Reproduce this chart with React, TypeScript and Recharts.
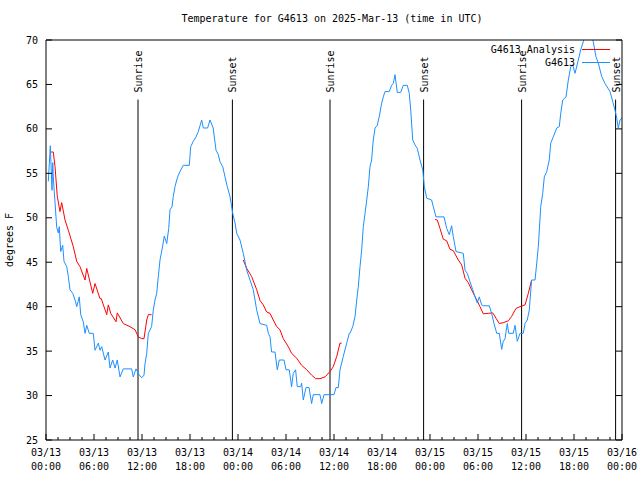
import React from "react";
import { LineChart, Line, XAxis, YAxis, ReferenceLine } from "recharts";

// hours since 03/13 00:00 UTC
const obsHour = [
  0.29, 0.54, 0.75, 0.84, 0.91, 1.09, 1.25, 1.34, 1.54, 1.66, 1.84, 2.09, 2.25, 2.59, 2.79, 3.0, 3.34, 3.63, 3.84,
  4.16, 4.34, 4.66, 4.88, 5.09, 5.41, 5.91, 6.13, 6.54, 6.75, 6.96, 7.38, 7.79, 8.0, 8.34, 8.63, 8.91, 9.25, 9.66,
  10.71, 10.91, 11.25, 11.59, 11.96, 12.25, 12.38, 12.59, 12.79, 13.2, 13.41, 13.63, 13.84, 14.04, 14.25, 14.54,
  14.79, 15.09, 15.34, 15.5, 15.75, 15.91, 16.13, 16.34, 16.54, 16.75, 17.16, 17.91, 18.09, 18.41, 18.75, 19.04,
  19.46, 19.66, 20.2, 20.5, 20.9, 21.25, 21.54, 21.75, 22.09, 22.38, 22.66, 23.0, 23.34, 23.63, 23.84, 24.25, 24.66,
  25.09, 25.5, 25.91, 26.34, 26.75, 27.59, 27.79, 28.0, 28.2, 28.63, 28.91, 29.16, 29.75, 30.0, 30.41, 30.7, 30.91,
  31.2, 31.41, 31.84, 31.96, 32.16, 32.5, 32.88, 33.2, 33.41, 34.25, 34.46, 34.75, 36.0, 36.25, 36.54, 36.75, 37.16,
  37.59, 37.91, 38.0, 38.34, 38.63, 38.84, 39.04, 39.25, 39.46, 39.66, 39.88, 40.09, 40.29, 40.5, 40.7, 40.91,
  41.13, 41.41, 41.66, 41.96, 42.16, 42.38, 42.91, 43.2, 43.41, 43.63, 43.91, 44.34, 44.66, 45.16, 45.41, 45.59,
  45.84, 46.13, 46.41, 46.75, 47.09, 47.29, 47.59, 48.2, 48.41, 48.75, 49.75, 50.09, 50.41, 50.7, 50.91, 51.25,
  52.16, 52.38, 52.66, 53.0, 53.34, 53.63, 53.91, 54.16, 54.46, 54.66, 55.41, 55.7, 56.0, 56.34, 56.66, 56.96,
  57.16, 57.38, 57.66, 57.84, 58.41, 58.63, 58.91, 59.25, 59.66, 59.88, 60.16, 60.41, 60.7, 61.13, 61.34, 61.54,
  61.84, 62.09, 62.29, 62.59, 62.91, 63.09, 63.41, 63.84, 64.16, 64.34, 64.59, 65.0, 65.29, 65.59, 65.84, 66.13,
  66.54, 66.84, 67.16, 67.5, 68.1, 68.41, 68.75, 69.04, 69.46, 69.88, 70.5, 70.84, 71.13, 71.34, 71.54, 71.75, 71.96,
];
const obsTemp = [
  54.1, 58.1, 53.1, 56.2, 54.6, 52.2, 50.1, 48.9, 48.3, 49.0, 46.2, 46.9, 45.1, 44.5, 43.4, 41.9, 41.5, 40.75, 40.0,
  41.1, 39.1, 38.3, 37.0, 37.9, 37.0, 37.0, 35.1, 35.9, 35.1, 35.5, 34.0, 34.9, 33.1, 34.0, 33.1, 34.0, 32.1, 33.0,
  33.0, 32.1, 33.0, 32.4, 32.0, 32.3, 33.6, 34.75, 37.0, 37.75, 39.6, 40.75, 41.5, 43.4, 45.25, 46.6,
  47.95, 47.1, 48.8, 50.9, 51.25, 52.4, 53.5, 54.25, 54.8, 55.2, 55.9, 55.9, 58.0, 58.6, 59.1, 59.7,
  61.0, 60.1, 60.1, 61.0, 60.1, 57.6, 57.1, 56.3, 55.75, 54.6, 53.5, 52.4, 50.5, 49.4, 48.25, 47.5, 46.0,
  44.1, 43.0, 41.9, 39.6, 38.1, 37.9, 37.0, 36.6, 34.9, 34.9, 32.9, 34.0, 34.0, 32.9, 32.9, 31.0, 32.5,
  32.9, 31.0, 31.0, 31.4, 29.5, 30.9, 30.9, 29.1, 30.1, 30.1, 29.1, 30.1, 30.1, 30.9, 30.9, 32.9, 34.4,
  35.9, 37.0, 37.0, 37.75, 38.9, 40.75, 42.25, 44.5, 46.4, 49.0, 50.5, 52.0, 53.5, 55.75, 56.5, 58.75,
  60.1, 60.4, 61.4, 62.9, 63.6, 64.2, 64.2, 64.9, 65.1, 66.1, 64.1, 64.1, 64.9, 64.9, 64.0, 62.1,
  58.75, 58.2, 57.8, 56.5, 55.4, 53.5, 52.2, 52.0, 51.25, 50.1, 50.1, 48.8, 48.1, 49.1, 47.9, 46.2,
  46.0, 44.1, 43.75, 42.8, 41.9, 41.1, 40.4, 41.1, 40.2, 40.1, 40.1, 39.25, 38.1, 37.0, 37.0, 35.2,
  36.1, 36.4, 38.1, 37.0, 37.0, 37.9, 36.1, 37.0, 37.0, 38.1, 38.5, 39.6, 43.0, 43.0, 44.9, 46.75,
  51.25, 52.75, 54.6, 55.2, 56.5, 58.4, 59.1, 60.1, 60.25, 61.75, 63.25, 63.6, 65.5, 67.0, 67.2, 66.25,
  67.75, 68.9, 69.8, 70.8, 70.8, 69.8, 68.1, 67.4, 65.9, 65.1, 64.2, 63.1, 62.1, 61.2, 60.1, 61.0, 61.2,
];

const anaHour = [
  0.63, 0.91, 1.13, 1.41, 1.75, 1.96, 2.38, 2.79, 3.41, 3.84, 4.25, 4.88, 5.09, 5.84, 6.13, 6.75, 6.91, 7.59, 7.79,
  8.09, 8.75, 8.91, 9.66, 10.5, 11.13, 11.54, 11.96, 12.25, 12.59, 12.79, 13.2,
  18,
  24.66, 25.09, 25.7, 26.34, 26.75, 27.16, 27.59, 28.0, 28.41, 28.84, 29.25, 29.66, 30.29, 30.7, 31.34, 31.96,
  32.59, 33.2, 33.7, 34.25, 34.88, 35.5, 35.91, 36.34, 36.75, 36.96,
  42,
  48.63, 48.91, 49.25, 49.66, 50.09, 50.5, 50.91, 51.54, 51.96, 52.38, 52.79, 53.2, 53.84, 54.25, 54.66, 55.29,
  55.84, 56.25, 56.66, 57.16, 57.79, 58.2, 58.75, 59.25, 59.88, 60.29, 60.7,
];
const anaTemp = [
  57.4, 57.4, 55.75, 52.4, 50.7, 51.7, 49.75, 48.6, 46.75, 45.1, 44.5, 43.0, 44.3, 41.5, 42.6, 40.9, 40.9, 39.1, 40.2,
  39.25, 38.3, 39.3, 38.1, 37.75, 37.4, 36.6, 36.4, 36.4, 38.5, 39.1, 39.1,
  null,
  45.25, 44.3, 43.4, 41.9, 40.7, 40.2, 39.4, 39.25, 38.5, 37.75, 37.4, 36.4, 35.5, 34.75, 34.2, 33.4,
  32.9, 32.3, 31.9, 31.9, 32.1, 32.7, 33.25, 34.4, 35.9, 35.9,
  null,
  49.8, 49.75, 48.8, 47.6, 47.4, 46.45, 46.3, 45.25, 44.7, 43.2, 42.7, 41.9, 40.75, 40.0, 39.2, 39.25,
  39.3, 38.7, 38.1, 38.2, 38.4, 38.9, 39.8, 40.0, 40.2, 41.5, 43.0,
];

const majorTicks = [0, 6, 12, 18, 24, 30, 36, 42, 48, 54, 60, 66, 72];
const tickDates = ["03/13", "03/13", "03/13", "03/13", "03/14", "03/14", "03/14", "03/14", "03/15", "03/15", "03/15", "03/15", "03/16"];
const tickTimes = ["00:00", "06:00", "12:00", "18:00", "00:00", "06:00", "12:00", "18:00", "00:00", "06:00", "12:00", "18:00", "00:00"];
const yTicks = [25, 30, 35, 40, 45, 50, 55, 60, 65, 70];

const sunHour = [11.5, 23.3, 35.5, 47.2, 59.45, 71.2];
const sunLabel = ["Sunrise", "Sunset", "Sunrise", "Sunset", "Sunrise", "Sunset"];

const FONT = "'DejaVu Sans Mono', 'Liberation Mono', monospace";
const BLUE = "#1e8fff";
const RED = "#ff0000";

const obsData = obsHour.map((h, i) => ({ h, obs: obsTemp[i] }));
const anaData = anaHour.map((h, i) => ({ h, ana: anaTemp[i] }));
const allXTicks = Array.from({ length: 49 }, (_, i) => i * 1.5);

function BottomTick(props: any) {
  const { x, y, payload } = props;
  const idx = majorTicks.indexOf(payload.value);
  const major = idx >= 0;
  return (
    <g>
      <line x1={x} x2={x} y1={y} y2={y - (major ? 6 : 3)} stroke="#000" />
      {major && (
        <text x={x} y={y} textAnchor="middle" fontFamily={FONT} fontSize={10} fill="#000">
          <tspan x={x} dy={16}>{tickDates[idx]}</tspan>
          <tspan x={x} dy={14}>{tickTimes[idx]}</tspan>
        </text>
      )}
    </g>
  );
}

function TopTick(props: any) {
  const { x, y, payload } = props;
  const major = majorTicks.indexOf(payload.value) >= 0;
  return <line x1={x} x2={x} y1={y} y2={y + (major ? 6 : 3)} stroke="#000" />;
}

function LeftTick(props: any) {
  const { x, y, payload } = props;
  return (
    <g>
      <line x1={x} x2={x + 6} y1={y} y2={y} stroke="#000" />
      <text x={x - 8} y={y} dy="0.35em" textAnchor="end" fontFamily={FONT} fontSize={10} fill="#000">
        {payload.value}
      </text>
    </g>
  );
}

function RightTick(props: any) {
  const { x, y } = props;
  return <line x1={x} x2={x - 6} y1={y} y2={y} stroke="#000" />;
}

function SunLabel(props: any) {
  const { viewBox, value } = props;
  const tx = viewBox.x + 4;
  const ty = viewBox.y - 7;
  return (
    <text x={tx} y={ty} transform={`rotate(-90 ${tx} ${ty})`} fontFamily={FONT} fontSize={10} fill="#000">
      {value}
    </text>
  );
}

function LegendBox() {
  const rows = [
    { name: "G4613 Analysis", color: RED },
    { name: "G4613", color: BLUE },
  ];
  return (
    <div
      style={{
        position: "absolute",
        top: 43,
        left: 430,
        width: 180,
        fontFamily: FONT,
        fontSize: 10,
        color: "#000",
      }}
    >
      {rows.map((r) => (
        <div key={r.name} style={{ display: "flex", justifyContent: "flex-end", alignItems: "center", height: 13 }}>
          <span>{r.name}</span>
          <span style={{ display: "inline-block", width: 28, borderTop: `1px solid ${r.color}`, marginLeft: 7 }} />
        </div>
      ))}
    </div>
  );
}

export default function App() {
  return (
    <div style={{ position: "fixed", left: 0, top: 0, width: 640, height: 480, background: "#fff" }}>
      <div
        style={{
          position: "absolute",
          top: 13,
          width: 640,
          left: 12,
          textAlign: "center",
          fontFamily: FONT,
          fontSize: 10,
          color: "#000",
        }}
      >
        Temperature for G4613 on 2025-Mar-13 (time in UTC)
      </div>
      <LineChart width={640} height={480} margin={{ top: 39, right: 17, bottom: 0, left: 6 }}>
        <XAxis
          xAxisId="b"
          dataKey="h"
          type="number"
          domain={[0, 72]}
          ticks={allXTicks}
          interval={0}
          height={40}
          tickSize={0}
          tickLine={false}
          tickMargin={0}
          stroke="#000"
          tick={<BottomTick />}
        />
        <XAxis
          xAxisId="t"
          orientation="top"
          dataKey="h"
          type="number"
          domain={[0, 72]}
          ticks={allXTicks}
          interval={0}
          height={1}
          tickSize={0}
          tickLine={false}
          tickMargin={0}
          stroke="#000"
          tick={<TopTick />}
        />
        <YAxis
          yAxisId="l"
          type="number"
          domain={[25, 70]}
          allowDataOverflow
          ticks={yTicks}
          interval={0}
          width={40}
          tickSize={0}
          tickLine={false}
          tickMargin={0}
          stroke="#000"
          tick={<LeftTick />}
          label={{
            content: () => (
              <text x={13} y={240} transform="rotate(-90 13 240)" textAnchor="middle" fontFamily={FONT} fontSize={10} fill="#000">
                degrees F
              </text>
            ),
          }}
        />
        <YAxis
          yAxisId="r"
          orientation="right"
          type="number"
          domain={[25, 70]}
          allowDataOverflow
          ticks={yTicks}
          interval={0}
          width={1}
          tickSize={0}
          tickLine={false}
          tickMargin={0}
          stroke="#000"
          tick={<RightTick />}
        />
        {sunHour.map((h, i) => (
          <ReferenceLine
            key={i}
            xAxisId="b"
            yAxisId="l"
            segment={[
              { x: h, y: 25 },
              { x: h, y: 63.3 },
            ]}
            stroke="#000"
            ifOverflow="visible"
            label={<SunLabel value={sunLabel[i]} />}
          />
        ))}
        <Line
          xAxisId="b"
          yAxisId="l"
          data={anaData}
          dataKey="ana"
          name="G4613 Analysis"
          stroke={RED}
          strokeWidth={1}
          dot={false}
          connectNulls={false}
          isAnimationActive={false}
        />
        <Line
          xAxisId="b"
          yAxisId="l"
          data={obsData}
          dataKey="obs"
          name="G4613"
          stroke={BLUE}
          strokeWidth={1}
          dot={false}
          isAnimationActive={false}
        />
      </LineChart>
      <LegendBox />
    </div>
  );
}
